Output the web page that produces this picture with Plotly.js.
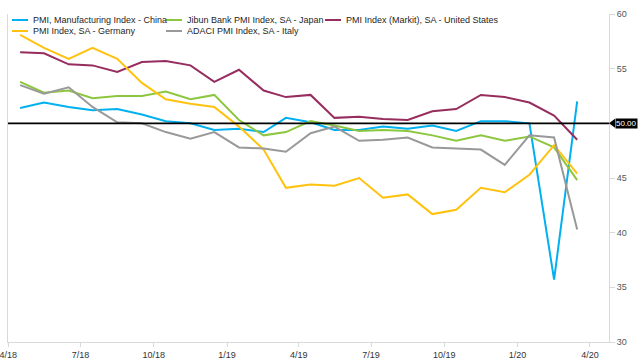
<!DOCTYPE html>
<html>
<head>
<meta charset="utf-8">
<script src="https://cdn.plot.ly/plotly-3.0.1.min.js"></script>
<style>html,body{margin:0;padding:0;background:#fff;}#chart{width:640px;height:363px;}</style>
</head>
<body>
<div id="chart"></div>
<script>
// Monthly observations, Apr 2018 .. Mar 2020 (plotted mid-month)
const months = ['2018-04','2018-05','2018-06','2018-07','2018-08','2018-09','2018-10','2018-11','2018-12',
  '2019-01','2019-02','2019-03','2019-04','2019-05','2019-06','2019-07','2019-08','2019-09','2019-10','2019-11','2019-12',
  '2020-01','2020-02','2020-03'];
const china   = [51.4,51.9,51.5,51.2,51.3,50.8,50.2,50.0,49.4,49.5,49.2,50.5,50.1,49.4,49.4,49.7,49.5,49.8,49.3,50.2,50.2,50.0,35.7,52.0];
const japan   = [53.8,52.8,53.0,52.3,52.5,52.5,52.9,52.2,52.6,50.3,48.9,49.2,50.2,49.8,49.3,49.4,49.3,48.9,48.4,48.9,48.4,48.8,47.8,44.8];
const usa     = [56.5,56.4,55.4,55.3,54.7,55.6,55.7,55.3,53.8,54.9,53.0,52.4,52.6,50.5,50.6,50.4,50.3,51.1,51.3,52.6,52.4,51.9,50.7,48.5];
const germany = [58.1,56.9,55.9,56.9,55.9,53.7,52.2,51.8,51.5,49.7,47.6,44.1,44.4,44.3,45.0,43.2,43.5,41.7,42.1,44.1,43.7,45.3,48.0,45.4];
const italy   = [53.5,52.7,53.3,51.5,50.1,50.0,49.2,48.6,49.2,47.8,47.7,47.4,49.1,49.7,48.4,48.5,48.7,47.8,47.7,47.6,46.2,48.9,48.7,40.3];

const seriesNames = ['PMI, Manufacturing Index - China','Jibun Bank PMI Index, SA - Japan','PMI Index (Markit), SA - United States','PMI Index, SA - Germany','ADACI PMI Index, SA - Italy'];
const seriesData = [china, japan, usa, germany, italy];
const seriesColors = ['#00B0F0','#8DC63F','#962D5E','#FFC20E','#999999'];

const tickVals = ['2018-04-01','2018-07-01','2018-10-01','2019-01-01','2019-04-01','2019-07-01','2019-10-01','2020-01-01','2020-04-01'];
const tickText = ['4/18','7/18','10/18','1/19','4/19','7/19','10/19','1/20','4/20'];
const yTicks = [30,35,40,45,50,55,60];
const yTickText = ['30','35','40','45','','55','60'];
const refLevel = 50;
const refLabel = '50.00';

const xDates = months.map(m => m + '-16');

const traces = seriesData.map((d, i) => ({
  x: xDates, y: d, type: 'scatter', mode: 'lines', name: seriesNames[i],
  line: {color: seriesColors[i], width: 2}, showlegend: false, hoverinfo: 'skip'
}));

// plot area geometry in pixels
const W = 640, H = 363, L = 8, R = 31, T = 14, B = 21;
const pw = W - L - R, ph = H - T - B;
const px = p => (p - L) / pw;
const py = p => (H - B - p) / ph;

const shapes = [
  {type: 'line', xref: 'paper', x0: 0, x1: 1, yref: 'y', y0: refLevel, y1: refLevel, line: {color: '#000', width: 1.6}, layer: 'above'},
  {type: 'path', xref: 'paper', xsizemode: 'pixel', xanchor: 1, yref: 'y', ysizemode: 'pixel', yanchor: refLevel,
   path: 'M 0 0 L 6 4.5 L 6 -4.5 Z', fillcolor: '#000', line: {width: 0}}
];
const annotations = [
  {xref: 'paper', x: 1, xshift: 6, xanchor: 'left', yref: 'y', y: refLevel, yanchor: 'middle', text: refLabel,
   showarrow: false, bgcolor: '#000', borderpad: 0, font: {family: 'Liberation Sans, Arial, sans-serif', size: 8, color: '#fff'}}
];

// legend (custom, matches reference layout)
const legPos = [[12, 20], [166, 20], [325, 20], [12, 31], [166, 31]];
seriesNames.forEach((n, i) => {
  const [lx, ly] = legPos[i];
  shapes.push({type: 'line', xref: 'paper', yref: 'paper', x0: px(lx), x1: px(lx + 16), y0: py(ly), y1: py(ly),
    line: {color: seriesColors[i], width: 2}});
  annotations.push({xref: 'paper', yref: 'paper', x: px(lx + 19), y: py(ly), xanchor: 'left', yanchor: 'middle',
    text: n, showarrow: false, font: {family: 'Liberation Sans, Arial, sans-serif', size: 9, color: '#262626'}});
});

const layout = {
  width: W, height: H,
  margin: {l: L, r: R, t: T, b: B, pad: 0},
  paper_bgcolor: '#fff', plot_bgcolor: '#fff',
  showlegend: false,
  font: {family: 'Liberation Sans, Arial, sans-serif', size: 9, color: '#333'},
  xaxis: {
    type: 'date', range: ['2018-03-31 18:00', '2020-04-25'],
    tickmode: 'array', tickvals: tickVals, ticktext: tickText,
    ticklabeloverflow: 'allow',
    showgrid: false, zeroline: false,
    showline: true, linecolor: '#d9d9d9', linewidth: 1,
    ticks: 'outside', ticklen: 4, tickcolor: '#d9d9d9', tickwidth: 1,
    tickfont: {size: 9, color: '#333'}
  },
  yaxis: {
    side: 'right', range: [30, 60], tickmode: 'array', tickvals: yTicks, ticktext: yTickText,
    showgrid: false, zeroline: false,
    showline: true, mirror: true, linecolor: '#d9d9d9', linewidth: 1,
    ticks: 'outside', ticklen: 5, tickcolor: '#d9d9d9', tickwidth: 1,
    tickfont: {size: 9, color: '#555'}
  },
  shapes: shapes,
  annotations: annotations
};

Plotly.newPlot('chart', traces, layout, {displayModeBar: false, staticPlot: true});
</script>
</body>
</html>
